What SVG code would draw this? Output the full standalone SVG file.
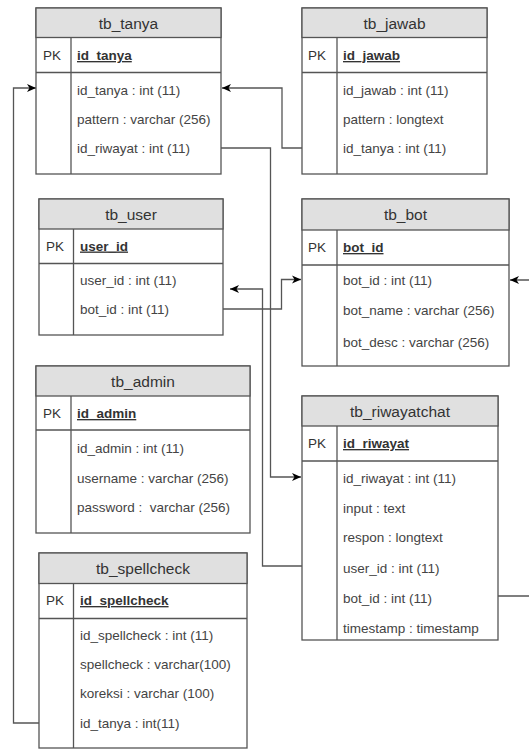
<svg xmlns="http://www.w3.org/2000/svg" width="529" height="749" viewBox="0 0 529 749">
<style>
.box{fill:#ffffff;stroke:#555555;stroke-width:1.3}
.hdr{fill:#e0e0e0;stroke:#555555;stroke-width:1.3}
.ln{stroke:#555555;stroke-width:1.3;fill:none}
.title{font-family:"Liberation Sans",Arial,sans-serif;font-size:15.5px;fill:#333333;text-anchor:middle}
.pk{font-family:"Liberation Sans",Arial,sans-serif;font-size:13.5px;fill:#333333}
.pkn{font-family:"Liberation Sans",Arial,sans-serif;font-size:13.5px;fill:#333333;text-decoration:underline}
.f{font-family:"Liberation Sans",Arial,sans-serif;font-size:13.5px;fill:#444444}
.c{stroke:#555555;stroke-width:1.3;fill:none;marker-end:url(#arr)}
</style>
<defs>
<marker id="arr" markerWidth="10" markerHeight="10" refX="9" refY="5" orient="auto" markerUnits="userSpaceOnUse">
<path d="M0,1 L9,5 L0,9 L2.5,5 Z" fill="#000000"/>
</marker>
</defs>

<g id="connectors">
<path class="c" d="M302,148 H282 V88 H222"/>
<path class="c" d="M221,148 H270.5 V477 H301"/>
<path class="c" d="M223,309 H281.5 V279.5 H301"/>
<path class="c" d="M302,566 H262.5 V289 H230"/>
<path class="c" d="M498,596 H540 V280 H510"/>
<path class="c" d="M39,723 H13.5 V88 H36"/>
</g>

<g id="tb_tanya">
<rect class="box" x="36" y="8" width="185" height="166"/>
<rect class="hdr" x="36" y="8" width="185" height="29.5"/>
<line class="ln" x1="36" y1="72.5" x2="221" y2="72.5"/>
<line class="ln" x1="71" y1="37.5" x2="71" y2="174"/>
<text class="title" x="128.5" y="28.5">tb_tanya</text>
<text class="pk" x="43" y="60">PK</text>
<text class="pkn" x="77" y="60" font-weight="bold">id_tanya</text>
<text class="f" x="77" y="95">id_tanya : int (11)</text>
<text class="f" x="77" y="124">pattern : varchar (256)</text>
<text class="f" x="77" y="153">id_riwayat : int (11)</text>
</g>

<g id="tb_jawab">
<rect class="box" x="302" y="8" width="185" height="166"/>
<rect class="hdr" x="302" y="8" width="185" height="29.5"/>
<line class="ln" x1="302" y1="72.5" x2="487" y2="72.5"/>
<line class="ln" x1="337" y1="37.5" x2="337" y2="174"/>
<text class="title" x="394.5" y="28.5">tb_jawab</text>
<text class="pk" x="308" y="60">PK</text>
<text class="pkn" x="343" y="60" font-weight="bold">id_jawab</text>
<text class="f" x="343" y="95">id_jawab : int (11)</text>
<text class="f" x="343" y="124">pattern : longtext</text>
<text class="f" x="343" y="153">id_tanya : int (11)</text>
</g>

<g id="tb_user">
<rect class="box" x="39" y="199" width="184" height="136"/>
<rect class="hdr" x="39" y="199" width="184" height="30"/>
<line class="ln" x1="39" y1="263.5" x2="223" y2="263.5"/>
<line class="ln" x1="73.5" y1="229" x2="73.5" y2="335"/>
<text class="title" x="131" y="219.5">tb_user</text>
<text class="pk" x="46" y="250.5">PK</text>
<text class="pkn" x="80" y="250.5" font-weight="bold">user_id</text>
<text class="f" x="80" y="285">user_id : int (11)</text>
<text class="f" x="80" y="314">bot_id : int (11)</text>
</g>

<g id="tb_bot">
<rect class="box" x="302" y="199" width="207" height="167"/>
<rect class="hdr" x="302" y="199" width="207" height="31"/>
<line class="ln" x1="302" y1="265" x2="509" y2="265"/>
<line class="ln" x1="337" y1="230" x2="337" y2="366"/>
<text class="title" x="405.5" y="220">tb_bot</text>
<text class="pk" x="308" y="252">PK</text>
<text class="pkn" x="343" y="252" font-weight="bold">bot_id</text>
<text class="f" x="343" y="285">bot_id : int (11)</text>
<text class="f" x="343" y="315">bot_name : varchar (256)</text>
<text class="f" x="343" y="346.5">bot_desc : varchar (256)</text>
</g>

<g id="tb_admin">
<rect class="box" x="36" y="366" width="214" height="167"/>
<rect class="hdr" x="36" y="366" width="214" height="30"/>
<line class="ln" x1="36" y1="430" x2="250" y2="430"/>
<line class="ln" x1="71" y1="396" x2="71" y2="533"/>
<text class="title" x="143" y="386.5">tb_admin</text>
<text class="pk" x="43" y="418">PK</text>
<text class="pkn" x="77" y="418" font-weight="bold">id_admin</text>
<text class="f" x="77" y="453">id_admin : int (11)</text>
<text class="f" x="77" y="483">username : varchar (256)</text>
<text class="f" x="77" y="512" xml:space="preserve">password :  varchar (256)</text>
</g>

<g id="tb_riwayatchat">
<rect class="box" x="302" y="396" width="196" height="244"/>
<rect class="hdr" x="302" y="396" width="196" height="30"/>
<line class="ln" x1="302" y1="461" x2="498" y2="461"/>
<line class="ln" x1="337" y1="426" x2="337" y2="640"/>
<text class="title" x="400" y="416.5">tb_riwayatchat</text>
<text class="pk" x="308" y="448">PK</text>
<text class="pkn" x="343" y="448" font-weight="bold">id_riwayat</text>
<text class="f" x="343" y="483">id_riwayat : int (11)</text>
<text class="f" x="343" y="512.5">input : text</text>
<text class="f" x="343" y="542">respon : longtext</text>
<text class="f" x="343" y="572.5">user_id : int (11)</text>
<text class="f" x="343" y="603">bot_id : int (11)</text>
<text class="f" x="343" y="632.5">timestamp : timestamp</text>
</g>

<g id="tb_spellcheck">
<rect class="box" x="39" y="553" width="208" height="195"/>
<rect class="hdr" x="39" y="553" width="208" height="30.5"/>
<line class="ln" x1="39" y1="618.5" x2="247" y2="618.5"/>
<line class="ln" x1="73.5" y1="583.5" x2="73.5" y2="748"/>
<text class="title" x="143" y="573.5">tb_spellcheck</text>
<text class="pk" x="46" y="605">PK</text>
<text class="pkn" x="80" y="605" font-weight="bold">id_spellcheck</text>
<text class="f" x="80" y="640">id_spellcheck : int (11)</text>
<text class="f" x="80" y="669">spellcheck : varchar(100)</text>
<text class="f" x="80" y="698">koreksi : varchar (100)</text>
<text class="f" x="80" y="728">id_tanya : int(11)</text>
</g>
</svg>
